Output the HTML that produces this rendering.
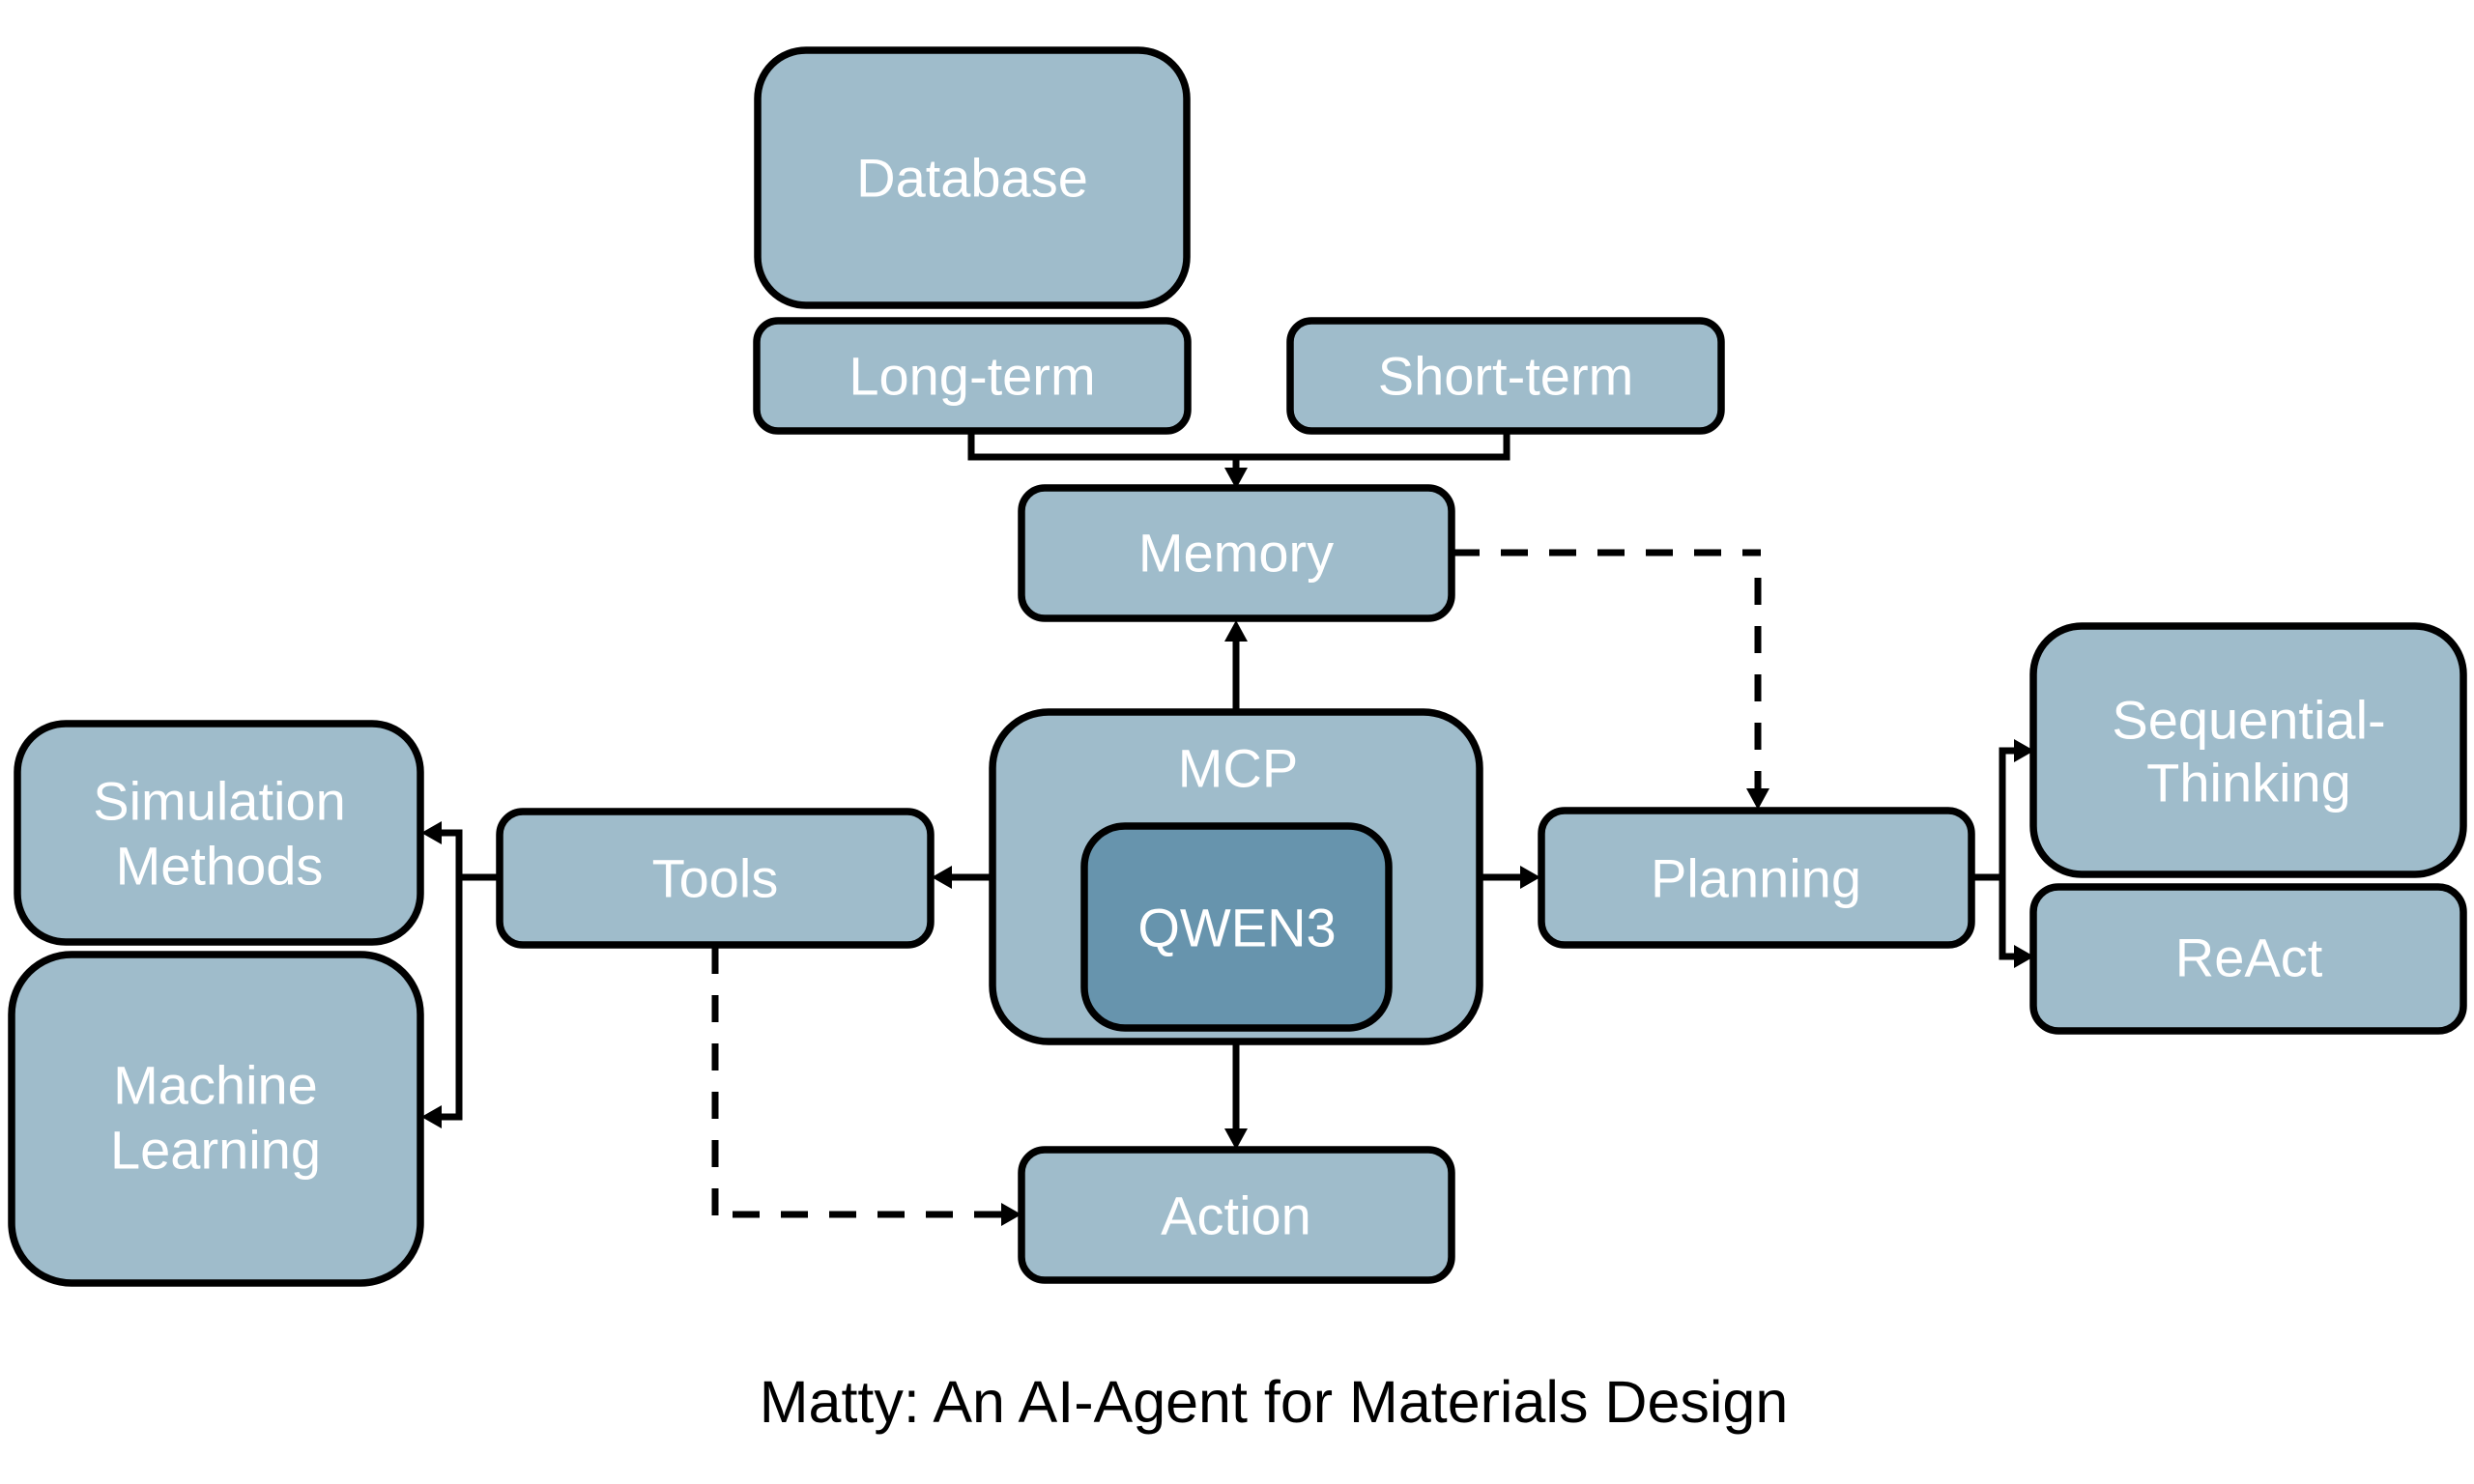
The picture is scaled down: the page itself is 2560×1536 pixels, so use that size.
<!DOCTYPE html>
<html>
<head>
<meta charset="utf-8">
<style>
  html, body { margin: 0; padding: 0; background: #ffffff; }
  body { width: 2560px; height: 1536px; overflow: hidden; }
  svg { display: block; }
  text { font-family: "Liberation Sans", Arial, sans-serif; }
</style>
</head>
<body>
<svg width="2560" height="1536" viewBox="0 0 2560 1536" xmlns="http://www.w3.org/2000/svg">
  <rect x="0" y="0" width="2560" height="1536" fill="#ffffff"/>

  <!-- ===== Connectors (solid) ===== -->
  <g stroke="#000" stroke-width="7" fill="none" stroke-linejoin="miter">
    <polyline points="1005,446 1005,473 1559,473 1559,446"/>
    <line x1="1279" y1="473" x2="1279" y2="486"/>
    <line x1="1279" y1="737" x2="1279" y2="660"/>
    <line x1="1279" y1="1078" x2="1279" y2="1170"/>
    <line x1="1027" y1="908" x2="983" y2="908"/>
    <line x1="1531" y1="908" x2="1575" y2="908"/>
    <line x1="517" y1="908" x2="475" y2="908"/>
    <polyline points="455,862 475,862 475,1156 455,1156"/>
    <line x1="2040" y1="908" x2="2072" y2="908"/>
    <polyline points="2086,777 2072,777 2072,990 2086,990"/>
  </g>

  <!-- ===== Connectors (dashed) ===== -->
  <g stroke="#000" stroke-width="7" fill="none" stroke-dasharray="28 22">
    <line x1="1503" y1="572" x2="1822" y2="572"/>
    <line x1="1819" y1="598" x2="1819" y2="818"/>
    <line x1="740" y1="980" x2="740" y2="1260"/>
    <line x1="758" y1="1257" x2="1040" y2="1257"/>
  </g>

  <!-- ===== Arrowheads ===== -->
  <g fill="#000">
    <polygon points="1267,484 1291,484 1279,506"/>
    <polygon points="1267,664 1291,664 1279,642"/>
    <polygon points="1267,1168 1291,1168 1279,1190"/>
    <polygon points="985,896 985,920 964,908"/>
    <polygon points="1573,896 1573,920 1594,908"/>
    <polygon points="1807,816 1831,816 1819,838"/>
    <polygon points="1036,1245 1036,1269 1057,1257"/>
    <polygon points="457,850 457,874 436,862"/>
    <polygon points="457,1144 457,1168 436,1156"/>
    <polygon points="2084,765 2084,789 2105,777"/>
    <polygon points="2084,978 2084,1002 2105,990"/>
  </g>

  <!-- ===== Boxes ===== -->
  <g fill="#9fbccb" stroke="#000" stroke-width="7.5">
    <rect x="784" y="52" width="444" height="264" rx="50" ry="50"/>
    <rect x="783" y="332" width="446" height="114" rx="22" ry="22"/>
    <rect x="1335" y="332" width="446" height="114" rx="22" ry="22"/>
    <rect x="1057" y="505" width="445" height="135" rx="24" ry="24"/>
    <rect x="1027" y="737" width="504" height="341" rx="58" ry="58"/>
    <rect x="517" y="840" width="446" height="138" rx="24" ry="24"/>
    <rect x="1595" y="839" width="445" height="139" rx="24" ry="24"/>
    <rect x="1057" y="1190" width="445" height="135" rx="24" ry="24"/>
    <rect x="18" y="749" width="417" height="226" rx="50" ry="50"/>
    <rect x="12" y="988" width="423" height="340" rx="62" ry="62"/>
    <rect x="2104" y="648" width="445" height="257" rx="50" ry="50"/>
    <rect x="2104" y="918" width="445" height="149" rx="26" ry="26"/>
  </g>
  <rect x="1122" y="855" width="315" height="209" rx="42" ry="42" fill="#6794ad" stroke="#000" stroke-width="7.5"/>

  <!-- ===== Labels ===== -->
  <g fill="#ffffff" font-size="56" text-anchor="middle" dominant-baseline="central">
    <text x="1006" y="184">Database</text>
    <text x="1006" y="389">Long-term</text>
    <text x="1558" y="389">Short-term</text>
    <text x="1279" y="572">Memory</text>
    <text x="1281" y="795">MCP</text>
    <text x="1280" y="960">QWEN3</text>
    <text x="740" y="909">Tools</text>
    <text x="1817" y="909">Planning</text>
    <text x="1279" y="1258">Action</text>
    <text x="227" y="829">Simulation</text>
    <text x="227" y="896">Methods</text>
    <text x="223" y="1123">Machine</text>
    <text x="223" y="1190">Learning</text>
    <text x="2327" y="745">Sequential-</text>
    <text x="2327" y="810">Thinking</text>
    <text x="2327" y="991">ReAct</text>
  </g>

  <!-- ===== Caption ===== -->
  <text x="1318" y="1472" font-size="61" fill="#000" text-anchor="middle">Matty: An AI-Agent for Materials Design</text>
</svg>
</body>
</html>
